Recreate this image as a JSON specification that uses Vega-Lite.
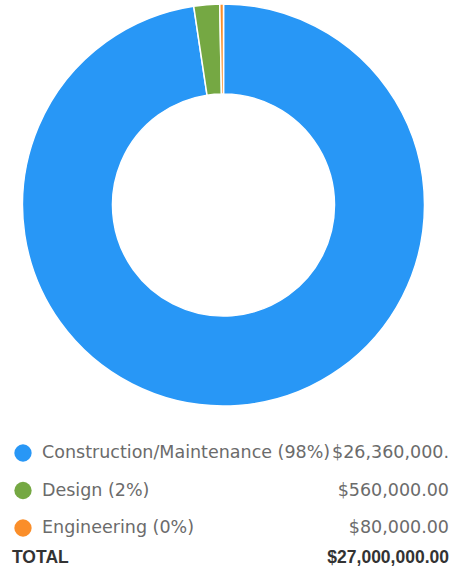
{
  "$schema": "https://vega.github.io/schema/vega-lite/v6.json",
  "padding": 0,
  "spacing": 0,
  "background": "white",
  "config": {"view": {"stroke": null}, "concat": {"spacing": 0}},
  "datasets": {
    "items": [
      {"category": "Construction/Maintenance", "label": "Construction/Maintenance (98%)", "amount": 26360000, "shown": "$26,360,000."},
      {"category": "Design", "label": "Design (2%)", "amount": 560000, "shown": "$560,000.00"},
      {"category": "Engineering", "label": "Engineering (0%)", "amount": 80000, "shown": "$80,000.00"}
    ],
    "total": [{"label": "TOTAL", "shown": "$27,000,000.00"}]
  },
  "vconcat": [
    {
      "width": 447,
      "height": 410,
      "data": {"name": "items"},
      "mark": {"type": "arc", "outerRadius": 201, "innerRadius": 111, "stroke": "white", "strokeWidth": 1.5},
      "encoding": {
        "theta": {"field": "amount", "type": "quantitative", "stack": true},
        "color": {
          "field": "category", "type": "nominal",
          "scale": {"domain": ["Construction/Maintenance", "Design", "Engineering"], "range": ["#2897f6", "#75a843", "#fa8e2a"]},
          "legend": null
        }
      }
    },
    {
      "width": 450,
      "height": 133,
      "data": {"name": "items"},
      "encoding": {
        "y": {"field": "category", "type": "nominal", "axis": null, "sort": null,
              "scale": {"type": "point", "padding": 0, "range": [43, 118]}}
      },
      "layer": [
        {
          "mark": {"type": "point", "filled": true, "opacity": 1, "size": 300, "shape": "circle", "x": 23},
          "encoding": {
            "color": {
              "field": "category", "type": "nominal",
              "scale": {"domain": ["Construction/Maintenance", "Design", "Engineering"], "range": ["#2897f6", "#75a843", "#fa8e2a"]},
              "legend": null
            }
          }
        },
        {
          "mark": {"type": "text", "align": "left", "baseline": "middle", "x": 42, "font": "DejaVu Sans", "fontSize": 17.5, "fill": "#6b6b6b"},
          "encoding": {"text": {"field": "label"}}
        },
        {
          "mark": {"type": "text", "align": "right", "baseline": "middle", "x": 449, "font": "DejaVu Sans", "fontSize": 17.5, "fill": "#6b6b6b"},
          "encoding": {"text": {"field": "shown"}}
        }
      ]
    },
    {
      "width": 450,
      "height": 30,
      "data": {"name": "total"},
      "layer": [
        {
          "mark": {"type": "text", "align": "left", "baseline": "middle", "x": 12, "y": 15, "font": "Liberation Sans", "fontSize": 17.5, "fontWeight": "bold", "fill": "#333333"},
          "encoding": {"text": {"field": "label"}}
        },
        {
          "mark": {"type": "text", "align": "right", "baseline": "middle", "x": 449, "y": 15, "font": "Liberation Sans", "fontSize": 17.5, "fontWeight": "bold", "fill": "#333333"},
          "encoding": {"text": {"field": "shown"}}
        }
      ]
    }
  ]
}
